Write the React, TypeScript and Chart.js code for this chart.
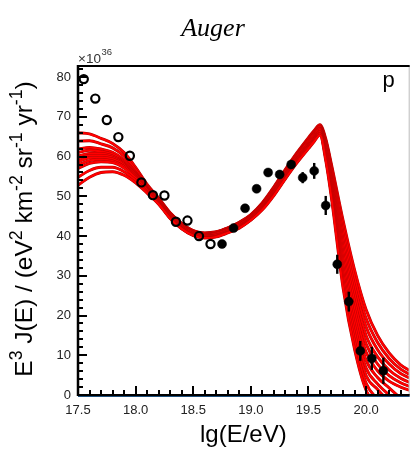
import React, { useEffect, useRef } from "react";
import { Chart, registerables } from "chart.js";

Chart.register(...registerables);

// ---- axis ranges / tick values ----
const X_MIN = 17.5;
const X_MAX = 20.37;
const Y_MIN = 0;
const Y_MAX = 82.8;
const X_MINOR_STEP = 0.1;
const Y_MINOR_STEP = 2;

// ---- model curves (sampled on X_GRID) ----
const X_GRID = [
  17.5, 17.6, 17.7, 17.8, 17.9, 18.0, 18.1, 18.2, 18.3, 18.4, 18.5, 18.6, 18.7, 18.8, 18.9, 19.0,
  19.1, 19.2, 19.3, 19.4, 19.5, 19.55, 19.6, 19.65, 19.7, 19.8, 19.9, 20.0, 20.1, 20.2, 20.3, 20.4,
];

const MODEL_0 = [66.0, 65.7, 64.6, 63.3, 61.0, 57.3, 53.0, 49.6, 45.9, 43.2, 41.4, 40.8, 41.1, 42.1, 43.5, 45.4, 48.4, 52.4, 56.8, 61.0, 64.8, 66.6, 68.0, 64.5, 58.0, 44.0, 31.5, 21.5, 15.0, 10.6, 7.6, 5.8];
const MODEL_1 = [63.9, 64.0, 63.2, 62.2, 60.1, 56.7, 52.7, 49.4, 45.8, 43.1, 41.3, 40.7, 41.0, 42.0, 43.4, 45.3, 48.2, 52.2, 56.6, 60.7, 64.5, 66.3, 67.7, 64.0, 57.2, 42.3, 29.5, 19.3, 13.2, 9.2, 6.5, 4.9];
const MODEL_2 = [61.9, 62.3, 61.9, 61.1, 59.2, 56.1, 52.3, 49.3, 45.6, 42.9, 41.1, 40.5, 40.8, 41.8, 43.2, 45.1, 48.0, 52.0, 56.3, 60.5, 64.2, 66.0, 67.5, 63.4, 56.3, 40.6, 27.5, 17.2, 11.4, 7.8, 5.4, 4.0];
const MODEL_3 = [61.0, 61.6, 61.3, 60.6, 58.8, 55.8, 52.2, 49.1, 45.4, 42.8, 41.0, 40.4, 40.7, 41.7, 43.0, 45.0, 47.9, 51.7, 56.1, 60.2, 64.0, 65.8, 67.2, 62.9, 55.5, 38.9, 25.5, 15.0, 9.6, 6.3, 4.2, 2.9];
const MODEL_4 = [60.1, 60.8, 60.8, 60.1, 58.5, 55.6, 52.0, 49.0, 45.3, 42.6, 40.9, 40.3, 40.6, 41.6, 42.9, 44.8, 47.7, 51.5, 55.8, 60.0, 63.7, 65.5, 67.0, 62.3, 54.6, 37.2, 23.5, 12.9, 7.8, 4.9, 3.1, 1.9];
const MODEL_5 = [59.4, 60.3, 60.3, 59.8, 58.2, 55.4, 51.9, 48.8, 45.2, 42.5, 40.8, 40.2, 40.5, 41.5, 42.8, 44.7, 47.5, 51.3, 55.6, 59.7, 63.4, 65.2, 66.7, 61.8, 53.8, 35.5, 21.5, 10.8, 6.1, 3.5, 2.0, 1.0];
const MODEL_6 = [58.7, 59.7, 59.8, 59.4, 57.9, 55.1, 51.8, 48.6, 45.0, 42.3, 40.6, 40.0, 40.3, 41.3, 42.6, 44.6, 47.3, 51.1, 55.4, 59.4, 63.1, 64.9, 66.4, 61.2, 52.9, 33.8, 19.5, 8.8, 4.4, 1.8, -0.8, -3.0];
const MODEL_7 = [57.9, 59.0, 59.3, 58.9, 57.5, 54.9, 51.7, 48.5, 44.9, 42.2, 40.5, 39.9, 40.2, 41.2, 42.5, 44.4, 47.1, 50.9, 55.1, 59.2, 62.8, 64.6, 66.2, 60.7, 52.1, 32.1, 17.5, 6.8, 2.8, 0.0, -2.5, -4.5];
const MODEL_8 = [57.0, 58.3, 58.7, 58.5, 57.1, 54.6, 51.5, 48.3, 44.7, 42.0, 40.3, 39.7, 40.0, 41.0, 42.3, 44.3, 47.0, 50.6, 54.9, 58.9, 62.6, 64.4, 65.9, 60.1, 51.2, 30.4, 15.5, 4.9, 1.4, -1.6, -4.0, -6.0];
const MODEL_9 = [54.8, 56.5, 57.3, 57.3, 56.2, 54.0, 51.1, 48.2, 44.5, 41.9, 40.2, 39.6, 39.9, 40.9, 42.2, 44.1, 46.8, 50.4, 54.6, 58.7, 62.3, 64.1, 65.7, 59.6, 50.4, 28.7, 13.5, 3.0, -1.0, -3.0, -5.0, -7.0];
const MODEL_10 = [52.8, 54.8, 56.0, 56.2, 55.3, 53.4, 50.8, 48.0, 44.4, 41.8, 40.1, 39.5, 39.8, 40.8, 42.0, 44.0, 46.6, 50.2, 54.4, 58.4, 62.0, 63.8, 65.4, 59.0, 49.5, 27.0, 11.5, 1.2, -2.5, -5.0, -7.0, -9.0];

const MODELS = [MODEL_0, MODEL_1, MODEL_2, MODEL_3, MODEL_4, MODEL_5, MODEL_6, MODEL_7, MODEL_8, MODEL_9, MODEL_10];

// ---- data points ----
const OPEN_X = [17.55, 17.65, 17.75, 17.85, 17.95, 18.05, 18.15, 18.25, 18.35, 18.45, 18.55, 18.65];
const OPEN_Y = [79.5, 74.6, 69.2, 64.9, 60.2, 53.5, 50.3, 50.2, 43.6, 43.9, 40.0, 38.0];

const FILLED_X = [18.75, 18.85, 18.95, 19.05, 19.15, 19.25, 19.35, 19.45, 19.55, 19.65, 19.75, 19.85, 19.95, 20.05, 20.15];
const FILLED_Y = [38.0, 42.0, 47.0, 51.9, 56.0, 55.5, 58.0, 54.7, 56.4, 47.7, 32.9, 23.5, 11.1, 9.2, 6.1];
const FILLED_ERR = [0.4, 0.5, 0.6, 0.7, 0.8, 1.0, 1.1, 1.4, 2.0, 2.4, 2.4, 2.5, 2.5, 2.9, 3.3];

// ---- texts ----
const TITLE = "Auger";
const PANEL_LABEL = "p";
const X_TITLE = "lg(E/eV)";
const Y_TITLE: { t: string; sup?: boolean }[] = [
  { t: "E" }, { t: "3", sup: true }, { t: " J(E) / (eV" }, { t: "2", sup: true },
  { t: " km" }, { t: "-2", sup: true }, { t: " sr" }, { t: "-1", sup: true },
  { t: " yr" }, { t: "-1", sup: true }, { t: ")" },
];
const EXPONENT_BASE = "\u00d710";
const EXPONENT = "36";

const SANS = '"Liberation Sans", Arial, Helvetica, sans-serif';
const SUP_SCALE = 0.72;

function richWidth(ctx: CanvasRenderingContext2D, segs: { t: string; sup?: boolean }[], size: number) {
  let w = 0;
  for (const s of segs) {
    ctx.font = `${s.sup ? size * SUP_SCALE : size}px ${SANS}`;
    w += ctx.measureText(s.t).width;
  }
  return w;
}

function drawRich(ctx: CanvasRenderingContext2D, segs: { t: string; sup?: boolean }[], x: number, y: number, size: number) {
  let cx = x;
  ctx.textAlign = "left";
  ctx.textBaseline = "alphabetic";
  for (const s of segs) {
    const fs = s.sup ? size * SUP_SCALE : size;
    ctx.font = `${fs}px ${SANS}`;
    ctx.fillText(s.t, cx, s.sup ? y - size * 0.42 : y);
    cx += ctx.measureText(s.t).width;
  }
}

const decorPlugin = {
  id: "decor",
  afterDatasetsDraw(chart: any) {
    const { ctx, scales } = chart;
    const x = scales.x;
    const y = scales.y;
    ctx.save();
    ctx.strokeStyle = "#000";
    ctx.lineWidth = 2.4;
    FILLED_X.forEach((xv, i) => {
      const px = x.getPixelForValue(xv);
      ctx.beginPath();
      ctx.moveTo(px, y.getPixelForValue(FILLED_Y[i] - FILLED_ERR[i]));
      ctx.lineTo(px, y.getPixelForValue(FILLED_Y[i] + FILLED_ERR[i]));
      ctx.stroke();
    });
    ctx.restore();
  },
  afterDraw(chart: any) {
    const { ctx, chartArea: a, scales } = chart;
    const x = scales.x;
    const y = scales.y;
    ctx.save();

    // frame
    ctx.strokeStyle = "#bbb";
    ctx.lineWidth = 1;
    ctx.beginPath();
    ctx.moveTo(a.right + 0.5, a.top);
    ctx.lineTo(a.right + 0.5, a.bottom);
    ctx.stroke();

    ctx.strokeStyle = "#000";
    ctx.lineWidth = 2;
    ctx.beginPath();
    ctx.moveTo(a.left, a.top);
    ctx.lineTo(a.right + 1, a.top);
    ctx.stroke();

    ctx.lineWidth = 2.5;
    ctx.beginPath();
    ctx.moveTo(a.left, a.top - 1);
    ctx.lineTo(a.left, a.bottom + 1);
    ctx.stroke();

    ctx.strokeStyle = "#1d4f7c";
    ctx.lineWidth = 1;
    ctx.beginPath();
    ctx.moveTo(a.left, a.bottom + 1.5);
    ctx.lineTo(a.right + 1, a.bottom + 1.5);
    ctx.stroke();
    ctx.strokeStyle = "#000";
    ctx.lineWidth = 2;
    ctx.beginPath();
    ctx.moveTo(a.left, a.bottom);
    ctx.lineTo(a.right + 1, a.bottom);
    ctx.stroke();

    // inward ticks
    ctx.lineWidth = 2;
    const nx = Math.round((X_MAX - X_MIN) / X_MINOR_STEP);
    for (let i = 0; i <= nx; i++) {
      const v = X_MIN + i * X_MINOR_STEP;
      if (v > X_MAX + 1e-6) break;
      const px = Math.round(x.getPixelForValue(v));
      const len = i % 5 === 0 ? 9 : 5;
      ctx.beginPath();
      ctx.moveTo(px, a.bottom);
      ctx.lineTo(px, a.bottom - len);
      ctx.stroke();
    }
    const ny = Math.floor((Y_MAX - Y_MIN) / Y_MINOR_STEP);
    for (let i = 0; i <= ny; i++) {
      const v = Y_MIN + i * Y_MINOR_STEP;
      const py = Math.round(y.getPixelForValue(v));
      const len = v % 10 === 0 ? 9 : 5;
      ctx.beginPath();
      ctx.moveTo(a.left, py);
      ctx.lineTo(a.left + len, py);
      ctx.stroke();
    }

    // exponent label
    ctx.fillStyle = "#333";
    ctx.textAlign = "left";
    ctx.textBaseline = "alphabetic";
    ctx.font = `13.5px ${SANS}`;
    ctx.fillText(EXPONENT_BASE, a.left, a.top - 3);
    const bw = ctx.measureText(EXPONENT_BASE).width;
    ctx.font = `9.5px ${SANS}`;
    ctx.fillText(EXPONENT, a.left + bw + 0.5, a.top - 11);

    // panel label
    ctx.fillStyle = "#000";
    ctx.font = `22px ${SANS}`;
    ctx.textAlign = "center";
    ctx.fillText(PANEL_LABEL, a.right - 20, a.top + 21);

    // title
    ctx.font = `italic 26px "Liberation Serif", "DejaVu Serif", serif`;
    ctx.textAlign = "center";
    ctx.fillText(TITLE, 213, 36);

    // x title
    ctx.font = `24px ${SANS}`;
    ctx.textAlign = "center";
    ctx.fillText(X_TITLE, (a.left + a.right) / 2, 442);

    // y title
    const size = 24.5;
    const w = richWidth(ctx, Y_TITLE, size);
    ctx.translate(32, 229);
    ctx.rotate(-Math.PI / 2);
    drawRich(ctx, Y_TITLE, -w / 2, 0, size);

    ctx.restore();
  },
};

export default function App() {
  const canvasRef = useRef<HTMLCanvasElement | null>(null);

  useEffect(() => {
    const canvas = canvasRef.current;
    if (!canvas) return;

    const curveSets: any[] = [];
    MODELS.forEach((m, k) => {
      const pts = X_GRID.map((xv, i) => ({ x: xv, y: m[i] }));
      // dark edge underneath, then bright red core
      curveSets.push({
        type: "line",
        data: pts,
        borderColor: "#b30000",
        borderWidth: 2.9,
        pointRadius: 0,
        fill: false,
        cubicInterpolationMode: "monotone",
        clip: 0,
        order: 1000 - 2 * k,
      });
      curveSets.push({
        type: "line",
        data: pts,
        borderColor: "#ff0000",
        borderWidth: 2.0,
        pointRadius: 0,
        fill: false,
        cubicInterpolationMode: "monotone",
        clip: 0,
        order: 999 - 2 * k,
      });
    });

    const chart = new Chart(canvas, {
      type: "line",
      data: {
        datasets: [
          {
            type: "line",
            data: FILLED_X.map((xv, i) => ({ x: xv, y: FILLED_Y[i] })),
            showLine: false,
            pointRadius: 4.5,
            pointBorderWidth: 0.5,
            pointBackgroundColor: "#000",
            pointBorderColor: "#000",
            order: 0,
          },
          {
            type: "line",
            data: OPEN_X.map((xv, i) => ({ x: xv, y: OPEN_Y[i] })),
            showLine: false,
            pointRadius: 4.1,
            pointBorderWidth: 2.2,
            pointBackgroundColor: "rgba(0,0,0,0)",
            pointBorderColor: "#000",
            order: 0,
          },
          ...curveSets,
        ] as any,
      },
      options: {
        animation: false,
        responsive: false,
        devicePixelRatio: 1,
        events: [],
        layout: { padding: { left: 0, right: 2, top: 66, bottom: 0 } },
        plugins: {
          legend: { display: false },
          tooltip: { enabled: false },
          title: { display: false },
        },
        scales: {
          x: {
            type: "linear",
            min: X_MIN,
            max: X_MAX,
            grid: { display: false, drawTicks: false },
            border: { display: false },
            ticks: {
              stepSize: 0.5,
              includeBounds: false,
              padding: 8,
              color: "#222",
              font: { family: SANS, size: 13 },
              maxRotation: 0,
              autoSkip: false,
            },
            afterFit: (scale: any) => {
              scale.height = 55;
            },
          },
          y: {
            type: "linear",
            min: Y_MIN,
            max: Y_MAX,
            grid: { display: false, drawTicks: false },
            border: { display: false },
            ticks: {
              stepSize: 10,
              includeBounds: false,
              padding: 7,
              color: "#222",
              font: { family: SANS, size: 13 },
            },
            afterFit: (scale: any) => {
              scale.width = 78;
            },
          },
        },
      },
      plugins: [decorPlugin],
    });

    return () => {
      chart.destroy();
    };
  }, []);

  return (
    <div style={{ position: "absolute", left: 0, top: 0, width: 415, height: 450, background: "#fff" }}>
      <canvas ref={canvasRef} width={415} height={450} style={{ width: 415, height: 450 }} />
    </div>
  );
}
